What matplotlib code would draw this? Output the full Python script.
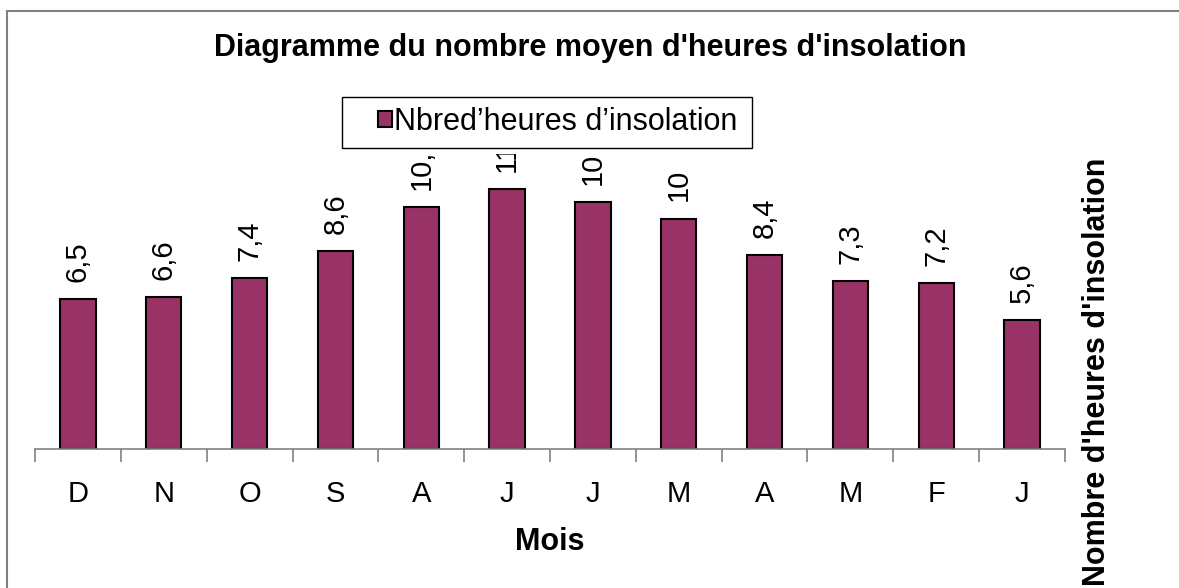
import matplotlib.pyplot as plt
from matplotlib.patches import Rectangle

# Données
mois = ['D', 'N', 'O', 'S', 'A', 'J', 'J', 'M', 'A', 'M', 'F', 'J']
heures = [6.5, 6.6, 7.4, 8.6, 10.5, 11.3, 10.7, 10, 8.4, 7.3, 7.2, 5.6]
labels = ['6,5', '6,6', '7,4', '8,6', '10,5', '11,3', '10,7', '10', '8,4', '7,3', '7,2', '5,6']

plt.rcParams['font.family'] = ['Liberation Sans', 'DejaVu Sans']

fig = plt.figure(figsize=(11.79, 5.88), dpi=100)
W, H = 1179, 588

# cadre de la zone graphique
fig.patches.append(Rectangle((7 / W, -0.1), 1.2, 1 - 11 / H + 0.1, transform=fig.transFigure,
                             fill=False, edgecolor='#808080', linewidth=1.5))

ax = fig.add_axes([35 / W, 1 - 449 / H, (1065 - 35) / W, (449 - 154) / H])
x = list(range(len(mois)))
bars = ax.bar(x, heures, width=0.41, color='#993366', edgecolor='black', linewidth=1.5,
              label='Nbred\u2019heures d\u2019insolation')

ax.set_xlim(-0.5, len(mois) - 0.5)
ax.set_ylim(0, 12.8)

# étiquettes de valeurs (coupées par le haut de la zone de traçage, comme dans Excel)
for xi, h, lab in zip(x, heures, labels):
    ax.text(xi, h + 0.74, lab, rotation=90, ha='center', va='bottom', fontsize=21, clip_on=True)

for s in ['top', 'right', 'left']:
    ax.spines[s].set_visible(False)
ax.spines['bottom'].set_color('#808080')
ax.spines['bottom'].set_linewidth(1.2)
ax.set_yticks([])
ax.set_xticks([i - 0.5 for i in range(len(mois) + 1)], minor=False)
ax.set_xticklabels([])
ax.tick_params(axis='x', which='major', length=9, color='#808080', width=1.2)
ax.set_xticks(x, minor=True)
ax.set_xticklabels(mois, minor=True, fontsize=21)
ax.tick_params(axis='x', which='minor', length=0, pad=22)

ax.set_xlabel('Mois', fontsize=22, fontweight='bold', labelpad=14)
ax.yaxis.set_label_position('right')
ax.set_ylabel("Nombre d'heures d'insolation", fontsize=22, fontweight='bold', labelpad=12)
ax.yaxis.label.set_y(0.263)

fig.text(590 / W, 1 - 48 / H, "Diagramme du nombre moyen d'heures d'insolation",
         ha='center', va='center', fontsize=22, fontweight='bold')

# légende : cadre + entrée
fig.patches.append(Rectangle((342 / W, 1 - 148 / H), (752 - 342) / W, (148 - 97) / H,
                             transform=fig.transFigure, facecolor='white', edgecolor='black',
                             linewidth=1, zorder=3))
leg = fig.legend(loc='center left', bbox_to_anchor=(363 / W, 1 - 122 / H), fontsize=22,
                 frameon=False, handlelength=0.45, handleheight=0.45, handletextpad=0.05,
                 borderpad=0)
leg.set_zorder(4)

fig.savefig('out.png', dpi=100)
